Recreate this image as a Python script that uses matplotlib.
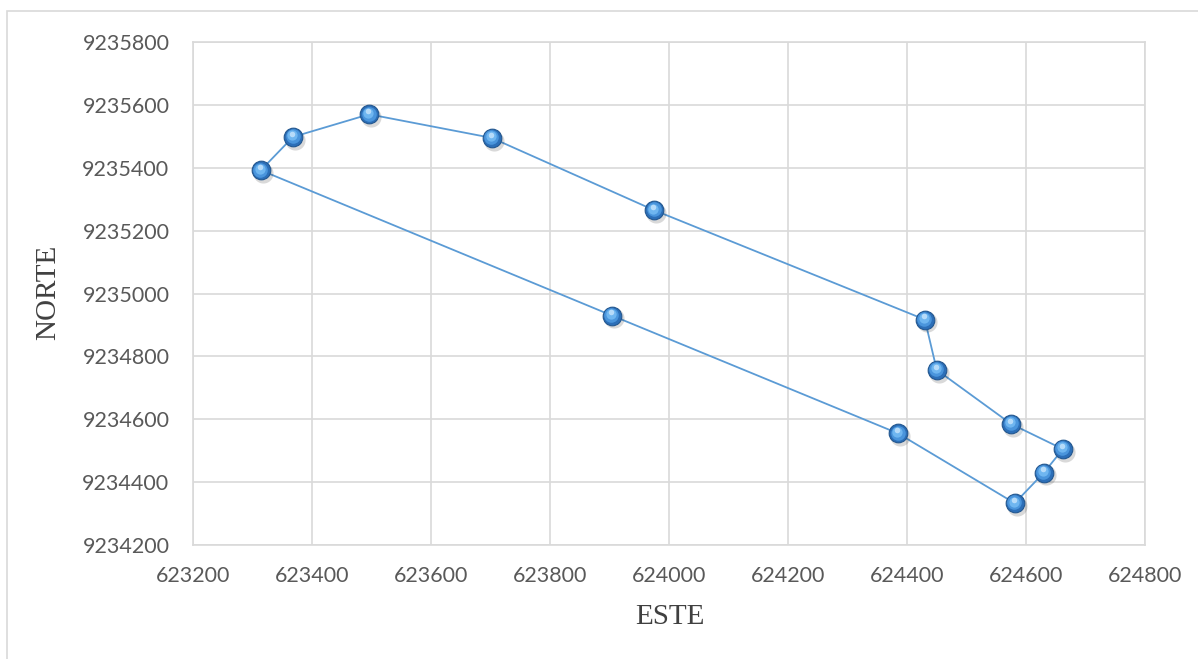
import numpy as np
import matplotlib
matplotlib.use("Agg")
import matplotlib.pyplot as plt
from matplotlib.patches import Rectangle
from matplotlib.transforms import offset_copy

# Polygon vertices (UTM coordinates), closed back to the first point
este = [623314, 623368, 623496, 623702, 623975, 624430, 624450,
        624575, 624662, 624630, 624581, 624385, 623904, 623314]
norte = [9235392, 9235498, 9235570, 9235495, 9235265, 9234917, 9234757,
         9234585, 9234505, 9234430, 9234333, 9234555, 9234930, 9235392]

x_ticks = [623200, 623400, 623600, 623800, 624000, 624200, 624400, 624600, 624800]
y_ticks = [9234200, 9234400, 9234600, 9234800, 9235000, 9235200, 9235400,
           9235600, 9235800]

W, H = 1198, 659
fig = plt.figure(figsize=(W / 100, H / 100), dpi=100)
fig.patches.append(Rectangle((7 / W, -0.05), 1.2, (H - 11) / H + 0.05,
                             transform=fig.transFigure, fill=False,
                             edgecolor="#d9d9d9", linewidth=1.2))

ax = fig.add_axes([193 / W, (H - 545) / H, (1145 - 193) / W, (545 - 42) / H])

ax.plot(este, norte, color="#5b9bd5", linewidth=1.3, zorder=3)

# glossy sphere markers: shadow, body, inner glow, highlight
pts_x, pts_y = este[:-1], norte[:-1]
shadow = offset_copy(ax.transData, fig=fig, x=1.5, y=-2.0, units="points")
ax.scatter(pts_x, pts_y, s=210, color="#000000", alpha=0.15,
           linewidths=0, transform=shadow, zorder=4)
ax.scatter(pts_x, pts_y, s=180, color="#2c6fb8",
           edgecolors="#23578f", linewidths=0.8, zorder=5)
glow = offset_copy(ax.transData, fig=fig, x=-0.3, y=0.5, units="points")
ax.scatter(pts_x, pts_y, s=110, color="#4a95dc", linewidths=0,
           transform=glow, zorder=6)
glow2 = offset_copy(ax.transData, fig=fig, x=-0.6, y=1.2, units="points")
ax.scatter(pts_x, pts_y, s=55, color="#6fb6f0", linewidths=0,
           transform=glow2, zorder=7)
hl = offset_copy(ax.transData, fig=fig, x=-0.8, y=2.4, units="points")
ax.scatter(pts_x, pts_y, s=16, color="#bfe0fb", alpha=0.9, linewidths=0,
           transform=hl, zorder=8)

ax.set_xlim(623200, 624800)
ax.set_ylim(9234200, 9235800)
ax.set_xticks(x_ticks)
ax.set_yticks(y_ticks)
ax.set_xticklabels([str(v) for v in x_ticks])
ax.set_yticklabels([str(v) for v in y_ticks])
ax.tick_params(length=0, labelsize=15.5, labelcolor="#595959")
ax.tick_params(axis="y", pad=17)
ax.tick_params(axis="x", pad=15)
for lab in ax.get_xticklabels() + ax.get_yticklabels():
    lab.set_fontfamily("Lato")

ax.grid(True, color="#d9d9d9", linewidth=1.2)
ax.set_axisbelow(True)
for sp in ax.spines.values():
    sp.set_color("#d9d9d9")
    sp.set_linewidth(1.2)

fig.text(670 / W, 1 - 617 / H, "ESTE", ha="center", va="center",
         fontsize=21, family="Liberation Serif", color="#404040")
fig.text(48 / W, 1 - 292 / H, "NORTE", ha="center", va="center",
         rotation=90, fontsize=21, family="Liberation Serif", color="#404040")

fig.savefig("out.png", dpi=100)
